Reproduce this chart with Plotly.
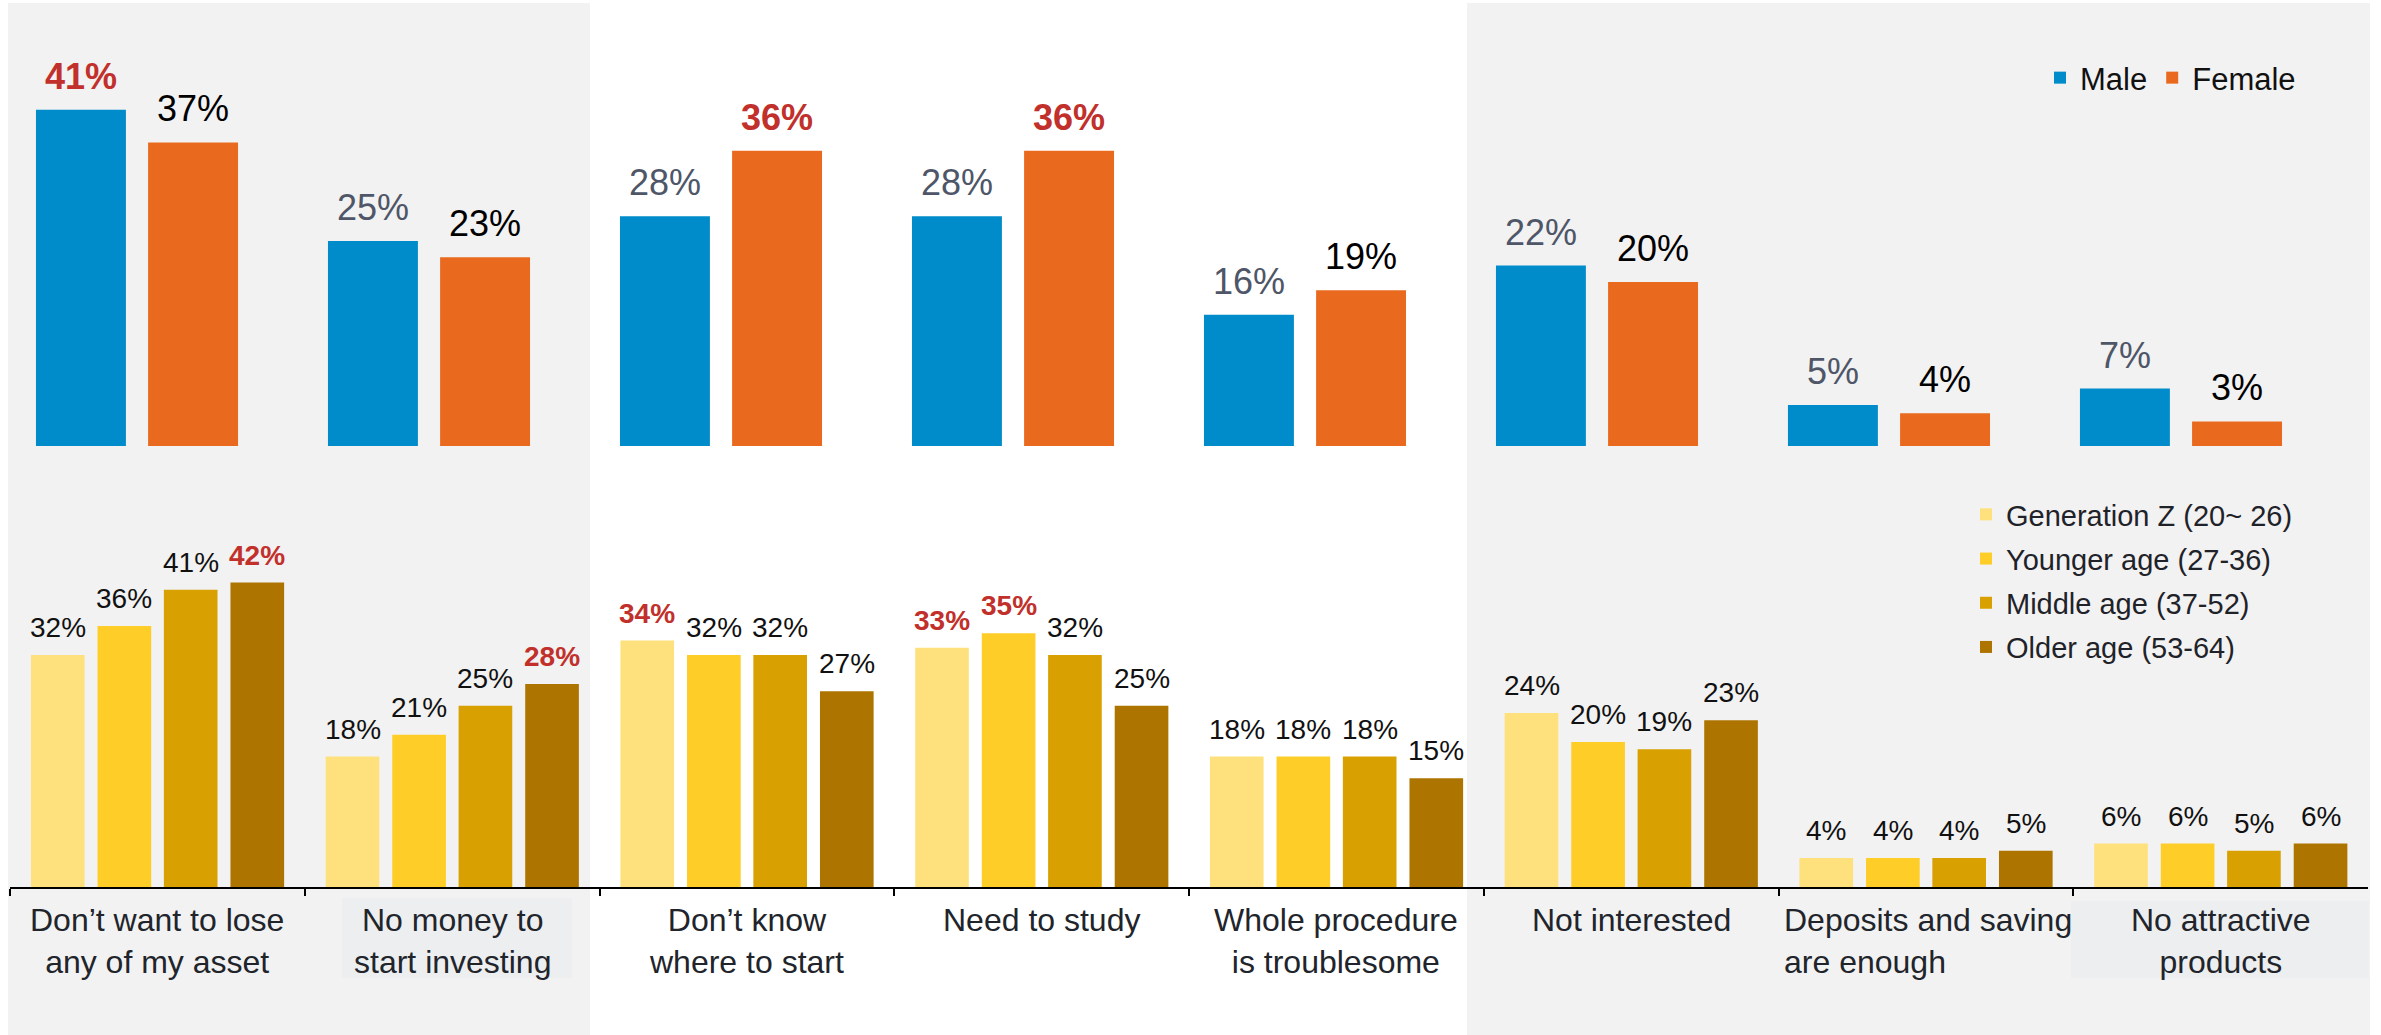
import plotly.graph_objects as go

W, H = 2381, 1035

# ---- data -------------------------------------------------------------
reasons = [
    "Don’t want to lose any of my asset",
    "No money to start investing",
    "Don’t know where to start",
    "Need to study",
    "Whole procedure is troublesome",
    "Not interested",
    "Deposits and saving are enough",
    "No attractive products",
]
reason_labels = [
    "Don’t want to lose<br>any of my asset",
    "No money to<br>start investing",
    "Don’t know<br>where to start",
    "Need to study",
    "Whole procedure<br>is troublesome",
    "Not interested",
    "Deposits and saving<br>are enough",
    "No attractive<br>products",
]

genders = ["Male", "Female"]
male = [41, 25, 28, 28, 16, 22, 5, 7]
female = [37, 23, 36, 36, 19, 20, 4, 3]
male_highlight = [1, 0, 0, 0, 0, 0, 0, 0]
female_highlight = [0, 0, 1, 1, 0, 0, 0, 0]

age_groups = [
    "Generation Z (20~ 26)",
    "Younger age (27-36)",
    "Middle age (37-52)",
    "Older age (53-64)",
]
gen_z = [32, 18, 34, 33, 18, 24, 4, 6]
younger = [36, 21, 32, 35, 18, 20, 4, 6]
middle = [41, 25, 32, 32, 18, 19, 4, 5]
older = [42, 28, 27, 25, 15, 23, 5, 6]
gen_z_highlight = [0, 0, 1, 1, 0, 0, 0, 0]
younger_highlight = [0, 0, 0, 1, 0, 0, 0, 0]
middle_highlight = [0, 0, 0, 0, 0, 0, 0, 0]
older_highlight = [1, 1, 0, 0, 0, 0, 0, 0]

# ---- styling ----------------------------------------------------------
FONT = "Liberation Sans, Arial, sans-serif"
RED = "#c1302b"
GRAY_BG = "#f2f2f2"
BOX_BG = "#edeef0"

gender_colors = ["#008bca", "#e96a1e"]
gender_label_colors = ["#4e5668", "#000000"]
gender_offsets = [-0.346, 0.038]
gender_width = 0.308

age_colors = ["#fee17c", "#fecd27", "#d8a000", "#ad7400"]
age_offsets = [-0.429, -0.203, 0.022, 0.248]
age_width = 0.182

fig = go.Figure()
annotations = []

# ---- top panel: by gender ---------------------------------------------
for name, vals, hl, color, lcolor, off in zip(
    genders, [male, female], [male_highlight, female_highlight],
    gender_colors, gender_label_colors, gender_offsets,
):
    fig.add_trace(go.Bar(
        x=reasons, y=vals, name=name, xaxis="x", yaxis="y",
        offset=off, width=gender_width,
        marker=dict(color=color, line=dict(width=0)),
        legend="legend", hoverinfo="skip",
    ))
    for i, v in enumerate(vals):
        annotations.append(dict(
            x=i + off + gender_width / 2, y=v, xref="x", yref="y",
            text=f"{v}%", showarrow=False, yanchor="bottom", yshift=11,
            font=dict(family=FONT, size=36,
                      color=RED if hl[i] else lcolor,
                      weight="bold" if hl[i] else "normal"),
        ))

# ---- bottom panel: by age group ---------------------------------------
for name, vals, hl, color, off in zip(
    age_groups, [gen_z, younger, middle, older],
    [gen_z_highlight, younger_highlight, middle_highlight, older_highlight],
    age_colors, age_offsets,
):
    fig.add_trace(go.Bar(
        x=reasons, y=vals, name=name, xaxis="x2", yaxis="y2",
        offset=off, width=age_width,
        marker=dict(color=color, line=dict(width=0)),
        legend="legend2", legendgroup=name, hoverinfo="skip",
    ))
    for i, v in enumerate(vals):
        annotations.append(dict(
            x=i + off + age_width / 2, y=v, xref="x2", yref="y2",
            text=f"{v}%", showarrow=False, yanchor="bottom", yshift=10,
            font=dict(family=FONT, size=28,
                      color=RED if hl[i] else "#111111",
                      weight="bold" if hl[i] else "normal"),
        ))

# ---- category labels under the axis -------------------------------------
label_top = (H - 900) / H
for i, lab in enumerate(reason_labels):
    if i == 6:
        annotations.append(dict(
            x=i - 0.5, y=label_top, xref="x2", yref="paper", text=lab,
            showarrow=False, xanchor="left", yanchor="top", align="left",
            xshift=3, font=dict(family=FONT, size=32, color="#21252b"),
        ))
    else:
        annotations.append(dict(
            x=i, y=label_top, xref="x2", yref="paper", text=lab,
            showarrow=False, xanchor="center", yanchor="top", align="center",
            font=dict(family=FONT, size=32, color="#21252b"),
        ))

# ---- background bands ---------------------------------------------------
def px_rect(x0, y0, x1, y1, color):
    return dict(type="rect", xref="paper", yref="paper", layer="below",
                x0=x0 / W, x1=x1 / W, y0=(H - y1) / H, y1=(H - y0) / H,
                fillcolor=color, line=dict(width=0))

shapes = [
    px_rect(8, 3, 590, H, GRAY_BG),
    px_rect(1467, 3, 2370, H, GRAY_BG),
    px_rect(342, 898, 572, 978, BOX_BG),
    px_rect(2071, 901, 2369, 978, BOX_BG),
]

fig.update_layout(
    width=W, height=H,
    margin=dict(l=0, r=0, t=0, b=0),
    paper_bgcolor="#ffffff", plot_bgcolor="rgba(0,0,0,0)",
    barmode="group",
    font=dict(family=FONT, color="#1a1a1a"),
    xaxis=dict(type="category", categoryarray=reasons, domain=[0, 1],
               range=[-0.4692, 7.685], visible=False, fixedrange=True),
    yaxis=dict(domain=[(H - 446) / H, (H - 3) / H], range=[0, 54],
               visible=False, fixedrange=True),
    xaxis2=dict(type="category", categoryarray=reasons, anchor="y2",
                domain=[10 / W, 2368 / W], range=[-0.5, 7.5],
                showline=True, linecolor="#000000", linewidth=2,
                ticks="outside", tickson="boundaries", ticklen=7,
                tickwidth=2, tickcolor="#000000",
                showticklabels=False, showgrid=False, zeroline=False,
                fixedrange=True),
    yaxis2=dict(domain=[(H - 887) / H, (H - 460) / H], range=[0, 58.9],
                visible=False, fixedrange=True),
    legend=dict(orientation="h", x=2040 / W, xanchor="left",
                y=(H - 78) / H, yanchor="middle",
                font=dict(family=FONT, size=31, color="#111111"),
                bgcolor="rgba(0,0,0,0)", traceorder="normal",
                itemclick=False, itemdoubleclick=False),
    legend2=dict(orientation="v", x=1966 / W, xanchor="left",
                 y=(H - 489) / H, yanchor="top",
                 font=dict(family=FONT, size=29, color="#1f2329"),
                 bgcolor="rgba(0,0,0,0)", traceorder="grouped",
                 tracegroupgap=3.5, itemclick=False, itemdoubleclick=False),
    annotations=annotations,
    shapes=shapes,
)

fig.write_html("out.html", config={"displayModeBar": False})
